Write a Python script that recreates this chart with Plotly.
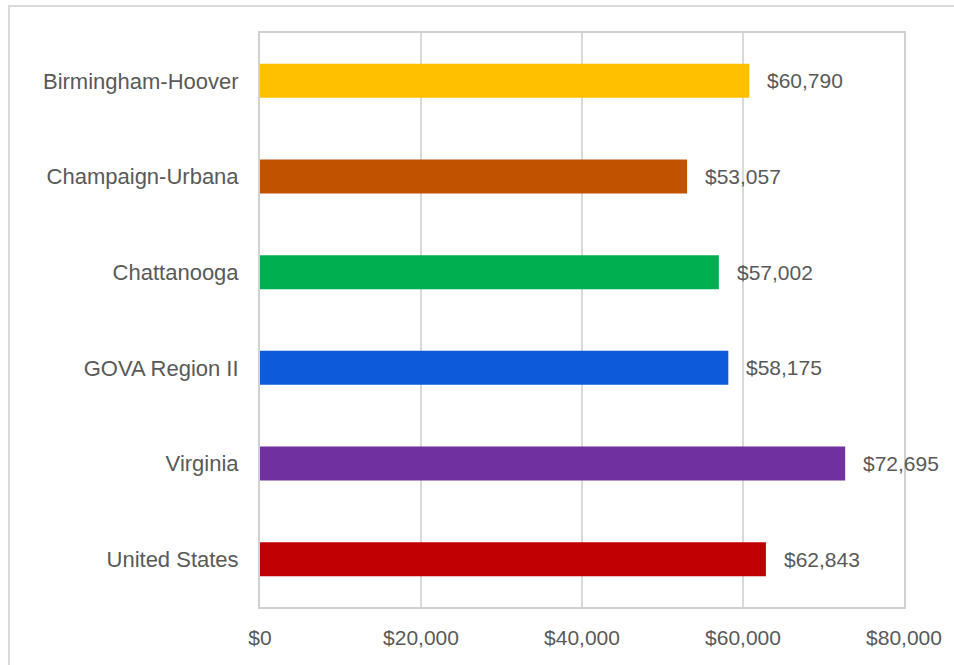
import plotly.graph_objects as go

categories = ["Birmingham-Hoover", "Champaign-Urbana", "Chattanooga",
              "GOVA Region II", "Virginia", "United States"]
values = [60790, 53057, 57002, 58175, 72695, 62843]
colors = ["#FFC000", "#C05200", "#00B050", "#0B5BDB", "#7030A0", "#C00000"]
tick_vals = [0, 20000, 40000, 60000, 80000]
tick_text = ["$0", "$20,000", "$40,000", "$60,000", "$80,000"]

FONT = "Liberation Sans, Arial, sans-serif"
TXT = "#595959"

fig = go.Figure(go.Bar(
    x=values, y=categories, orientation="h",
    marker=dict(color=colors, line=dict(width=0)),
    hoverinfo="skip",
))

for c, v in zip(categories, values):
    fig.add_annotation(x=v, y=c, text=f"${v:,}", showarrow=False,
                       xanchor="left", xshift=16,
                       font=dict(family=FONT, size=21, color=TXT))

fig.update_layout(
    width=954, height=665,
    margin=dict(l=260, r=46, t=33, b=58),
    paper_bgcolor="white", plot_bgcolor="white",
    bargap=0.645,
    showlegend=False,
    font=dict(family=FONT, size=21, color=TXT),
    xaxis=dict(range=[0, 80000], tickvals=tick_vals, ticktext=tick_text,
               showgrid=True, gridcolor="#d9d9d9", gridwidth=1.5,
               zeroline=False, showline=True, linecolor="#d0d0d0", linewidth=2,
               mirror=True, ticks="", ticklabelstandoff=11,
               tickfont=dict(family=FONT, size=21, color=TXT)),
    yaxis=dict(categoryorder="array", categoryarray=categories,
               autorange="reversed", showgrid=False, zeroline=False,
               showline=True, linecolor="#d0d0d0", linewidth=2, mirror=True,
               ticks="", ticklabelstandoff=15,
               tickfont=dict(family=FONT, size=22, color=TXT)),
    shapes=[dict(type="rect", xref="paper", yref="paper",
                 x0=(7.5 - 260) / 648, x1=1.5,
                 y0=-0.5, y1=(607 - 6) / 574,
                 line=dict(color="#d9d9d9", width=2), fillcolor="rgba(0,0,0,0)",
                 layer="below")],
)

fig.write_html("out.html", config={"displayModeBar": False},
               post_script="document.body.style.margin='0';document.body.style.overflow='hidden';")
